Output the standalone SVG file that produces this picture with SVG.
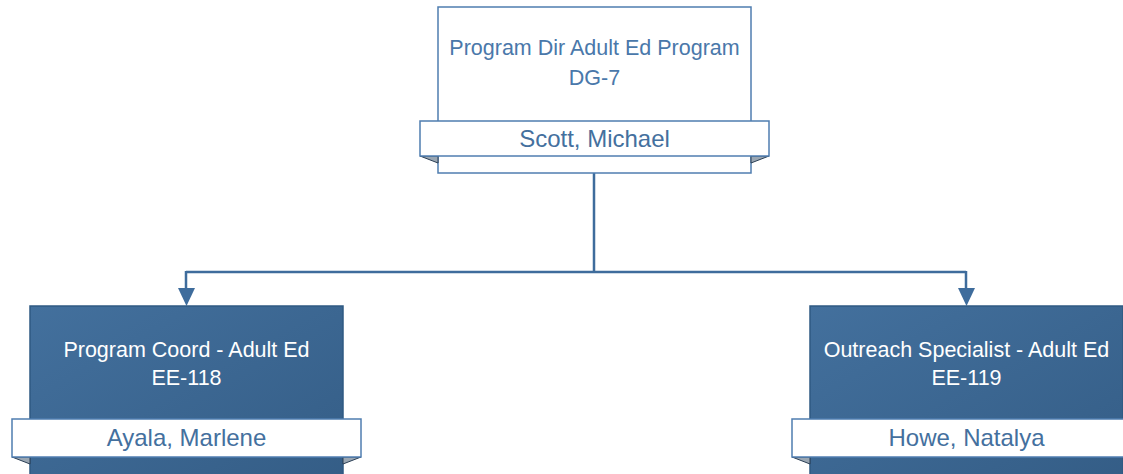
<svg xmlns="http://www.w3.org/2000/svg" width="1123" height="474" viewBox="0 0 1123 474">
<defs>
<linearGradient id="g" x1="0" y1="0" x2="1" y2="1">
<stop offset="0" stop-color="#43709d"/>
<stop offset="1" stop-color="#345d86"/>
</linearGradient>
</defs>
<style>
.tb{fill:#fff;stroke:#4f7db0;stroke-width:1.5}
.db{fill:url(#g);stroke:#2f5a82;stroke-width:1.5}
.band{fill:#fff;stroke:#4f7db0;stroke-width:1.5}
.fold{fill:#9aa6b2;stroke:#2a3f55;stroke-width:1}
.t{font-family:"Liberation Sans",Arial,sans-serif;font-size:21.5px;text-anchor:middle}
.n{font-family:"Liberation Sans",Arial,sans-serif;font-size:24px;text-anchor:middle;fill:#44709e}
.conn{fill:none;stroke:#3e6c9c;stroke-width:2.5}
.ah{fill:#3e6c9c}
</style>
<g id="connectors">
<path class="conn" d="M594,173 V272 M186,272 H966 M186,271 V290 M966,271 V290"/>
<path class="ah" d="M178,288 L195,288 L186.5,306 Z"/>
<path class="ah" d="M958,288 L975,288 L966.5,306 Z"/>
</g>
<g id="node-top">
<rect class="tb" x="438" y="7" width="313" height="166"/>
<path class="fold" d="M420,156 L438,156 L438,163 Z"/>
<path class="fold" d="M769,156 L751,156 L751,163 Z"/>
<rect class="band" x="420" y="121" width="349" height="35"/>
<text class="t" x="594.5" y="55" fill="#4a78aa">Program Dir Adult Ed Program</text>
<text class="t" x="594.5" y="85" fill="#4a78aa">DG-7</text>
<text class="n" x="594.5" y="147">Scott, Michael</text>
</g>
<g id="node-left">
<rect class="db" x="30" y="306" width="313" height="180"/>
<path class="fold" d="M12,457 L30,457 L30,464 Z"/>
<path class="fold" d="M361,457 L343,457 L343,464 Z"/>
<rect class="band" x="12" y="419" width="349" height="38"/>
<text class="t" x="186.5" y="357" fill="#ffffff">Program Coord - Adult Ed</text>
<text class="t" x="186.5" y="385" fill="#ffffff">EE-118</text>
<text class="n" x="186.5" y="446">Ayala, Marlene</text>
</g>
<g id="node-right">
<rect class="db" x="810" y="306" width="313" height="180"/>
<path class="fold" d="M792,457 L810,457 L810,464 Z"/>
<rect class="band" x="792" y="419" width="349" height="38"/>
<text class="t" x="966.5" y="357" fill="#ffffff">Outreach Specialist - Adult Ed</text>
<text class="t" x="966.5" y="385" fill="#ffffff">EE-119</text>
<text class="n" x="966.5" y="446">Howe, Natalya</text>
</g>
</svg>
